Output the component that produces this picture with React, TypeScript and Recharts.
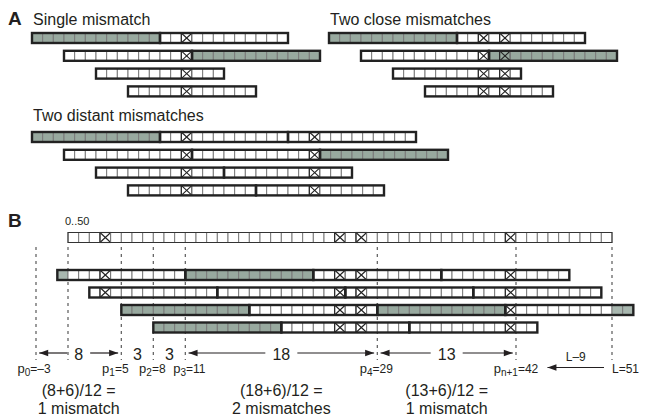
import { ScatterChart, Scatter, XAxis, YAxis, ReferenceLine } from "recharts";

const W = 645;
const H = 419;
const CELL = 32 / 3; // px per cell, x axis runs in cell units
const CELL_H = 10;
const PIECE = 12;
const FONT = '"Liberation Sans", Arial, Helvetica, sans-serif';
const INK = "#231f20";
const GREY = "#98a99f";
const GREY_OUT = "#a8b7af";

// ---- panel A data (columns of the mismatches, read layout)
const singleMismatch = [14];
const closeMismatches = [14, 16];
const distantMismatches = [14, 26];
const aReadStarts = [0, 3, 6, 9];
const aShortPieces = [2, 2, 1, 1];
const aShortGrey = [0, 1, -1, -1];
const aLongPieces = [3, 3, 2, 2];
const aLongGrey = [0, 2, -1, -1];

// ---- panel B data
const genomeFirst = 0;
const genomeLast = 50;
const genomeMismatches = [3, 25, 27, 41];
const bPieceStarts = [
  [-1, 11, 23, 35],
  [2, 14, 26, 38],
  [5, 17, 29, 41],
  [8, 20, 32],
];
const bGreyPieces = [[11], [], [5, 29], [8]];
const pNames = ["0", "1", "2", "3", "4", "n+1"];
const pValues = [-3, 5, 8, 11, 29, 42];
const gapValues = [8, 3, 3, 18, 13];
const gapArrows = [true, false, false, true, true];
const formulaGaps = [0, 3, 4];
const formulaResults = ["1 mismatch", "2 mismatches", "1 mismatch"];
const genomeL = 51;
const tailLen = 9;

// ---- layout
const ux = (px: number) => px / CELL;
const B_X0 = ux(68);
const A_GAP = 17.8;
const B_GAP = 17.5;

type CellPt = { x: number; y: number; fill: string; mark: boolean };
type SegPt = { x: number; y: number; len: number; thick: boolean };
type TextPt = {
  x: number;
  y: number;
  text: string;
  size: number;
  weight?: string;
  anchor?: string;
  sub?: string;
  rest?: string;
};
type HeadPt = { x: number; y: number; dir: number };

const cells: CellPt[] = [];
const segs: SegPt[] = [];
const texts: TextPt[] = [];
const heads: HeadPt[] = [];
const lines: { x1: number; x2: number; y1: number; y2: number; dashed: boolean }[] = [];

const aPanels = [
  { title: "Single mismatch", px: 32, y0: 38, ty: 25, mism: singleMismatch, pieces: aShortPieces, grey: aShortGrey },
  { title: "Two close mismatches", px: 329, y0: 38, ty: 25, mism: closeMismatches, pieces: aShortPieces, grey: aShortGrey },
  { title: "Two distant mismatches", px: 32, y0: 137, ty: 121, mism: distantMismatches, pieces: aLongPieces, grey: aLongGrey },
];

aPanels.forEach((p) => {
  const x0 = ux(p.px);
  texts.push({ x: ux(p.px + 1), y: p.ty, text: p.title, size: 16 });
  aReadStarts.forEach((start, r) => {
    const y = p.y0 + r * A_GAP;
    for (let k = 0; k < p.pieces[r]; k++) {
      const ps = start + k * PIECE;
      const grey = k === p.grey[r];
      for (let c = ps; c < ps + PIECE; c++) {
        cells.push({ x: x0 + c + 0.5, y, fill: grey ? GREY : "#fff", mark: p.mism.includes(c) });
      }
      segs.push({ x: x0 + ps + PIECE / 2, y, len: PIECE, thick: true });
    }
  });
});
texts.push({ x: ux(8), y: 25, text: "A", size: 19, weight: "bold" });
texts.push({ x: ux(8), y: 227, text: "B", size: 19, weight: "bold" });
texts.push({ x: ux(65), y: 225, text: `${genomeFirst}..${genomeLast}`, size: 11 });

// genome row
const GENOME_Y = 237.5;
for (let c = genomeFirst; c <= genomeLast; c++) {
  cells.push({ x: B_X0 + c + 0.5, y: GENOME_Y, fill: "#fff", mark: genomeMismatches.includes(c) });
}
segs.push({ x: B_X0 + (genomeFirst + genomeLast + 1) / 2, y: GENOME_Y, len: genomeLast - genomeFirst + 1, thick: false });

// reads
bPieceStarts.forEach((starts, r) => {
  const y = 275 + r * B_GAP;
  starts.forEach((ps) => {
    const grey = bGreyPieces[r].includes(ps);
    for (let c = ps; c < ps + PIECE; c++) {
      const out = c < genomeFirst || c > genomeLast;
      cells.push({
        x: B_X0 + c + 0.5,
        y,
        fill: out ? GREY_OUT : grey ? GREY : "#fff",
        mark: genomeMismatches.includes(c),
      });
    }
    segs.push({ x: B_X0 + ps + PIECE / 2, y, len: PIECE, thick: true });
  });
});

// dashed guides
[...pValues, genomeFirst, genomeL].forEach((v) => {
  lines.push({ x1: B_X0 + v, x2: B_X0 + v, y1: 247, y2: 360, dashed: true });
});

// gap arrows + numbers
const ARROW_Y = 353;
const INSET = 0.3;
gapValues.forEach((g, i) => {
  const a = B_X0 + pValues[i];
  const b = B_X0 + pValues[i + 1];
  const mid = (a + b) / 2;
  texts.push({ x: mid, y: ARROW_Y + 6.5, text: String(g), size: 16, anchor: "middle" });
  if (gapArrows[i]) {
    const half = ux(String(g).length * 4.5 + 7);
    lines.push({ x1: a + INSET, x2: mid - half, y1: ARROW_Y, y2: ARROW_Y, dashed: false });
    lines.push({ x1: mid + half, x2: b - INSET, y1: ARROW_Y, y2: ARROW_Y, dashed: false });
    heads.push({ x: a + INSET, y: ARROW_Y, dir: -1 });
    heads.push({ x: b - INSET, y: ARROW_Y, dir: 1 });
  }
});

// p labels
const LABEL_Y = 372.5;
const labelShift = [-2, -6, -1, 4, -1, 0];
pValues.forEach((v, i) => {
  texts.push({
    x: B_X0 + v + ux(labelShift[i]),
    y: LABEL_Y,
    text: "p",
    sub: pNames[i],
    rest: `=${v < 0 ? "–" + Math.abs(v) : v}`,
    size: 13,
    anchor: "middle",
  });
});
texts.push({ x: B_X0 + genomeL, y: LABEL_Y, text: `L=${genomeL}`, size: 12, anchor: "start" });

// L-9 arrow
const TAIL_Y = 367.5;
const tailTip = B_X0 + pValues[pValues.length - 1] + 2.95;
const tailEnd = B_X0 + genomeL - 0.75;
lines.push({ x1: tailTip, x2: tailEnd, y1: TAIL_Y, y2: TAIL_Y, dashed: false });
heads.push({ x: tailTip, y: TAIL_Y, dir: -1 });
texts.push({ x: (tailTip + tailEnd) / 2, y: 361, text: `L–${tailLen}`, size: 12, anchor: "middle" });

// formulas
formulaGaps.forEach((gi, k) => {
  const mid = B_X0 + (pValues[gi] + pValues[gi + 1]) / 2;
  texts.push({ x: mid, y: 396, text: `(${gapValues[gi]}+6)/12 =`, size: 16, anchor: "middle" });
  texts.push({ x: mid, y: 414, text: formulaResults[k], size: 16, anchor: "middle" });
});

function CellShape(props: any) {
  const { cx, cy, payload } = props;
  const w = CELL;
  const x = cx - w / 2;
  const y = cy - CELL_H / 2;
  return (
    <g>
      <rect x={x} y={y} width={w} height={CELL_H} fill={payload.fill} stroke="#7a7a7a" strokeWidth={1} />
      {payload.mark && (
        <g stroke="#222" strokeWidth={1.1}>
          <rect x={x} y={y} width={w} height={CELL_H} fill="none" />
          <line x1={x + 0.5} y1={y + 0.5} x2={x + w - 0.5} y2={y + CELL_H - 0.5} />
          <line x1={x + w - 0.5} y1={y + 0.5} x2={x + 0.5} y2={y + CELL_H - 0.5} />
        </g>
      )}
    </g>
  );
}

function SegShape(props: any) {
  const { cx, cy, payload } = props;
  const w = payload.len * CELL;
  return (
    <rect
      x={cx - w / 2}
      y={cy - CELL_H / 2}
      width={w}
      height={CELL_H}
      fill="none"
      stroke={payload.thick ? "#222" : "#333"}
      strokeWidth={payload.thick ? 2.4 : 1}
    />
  );
}

function TextShape(props: any) {
  const { cx, cy, payload } = props;
  return (
    <text
      x={cx}
      y={cy}
      fontSize={payload.size}
      fontWeight={payload.weight || "normal"}
      textAnchor={payload.anchor || "start"}
      fill={INK}
      fontFamily={FONT}
    >
      {payload.text}
      {payload.sub && (
        <tspan dy={3} fontSize={payload.size - 3}>
          {payload.sub}
        </tspan>
      )}
      {payload.rest && (
        <tspan dy={-3} fontSize={payload.size - 1}>
          {payload.rest}
        </tspan>
      )}
    </text>
  );
}

function HeadShape(props: any) {
  const { cx, cy, payload } = props;
  const d = payload.dir;
  return <path d={`M${cx},${cy} L${cx - d * 9},${cy - 3.2} L${cx - d * 9},${cy + 3.2} Z`} fill={INK} />;
}

export default function App() {
  return (
    <div style={{ position: "absolute", left: 0, top: 0, width: W, height: H, background: "#fff" }}>
      <ScatterChart width={W} height={H} margin={{ top: 0, right: 0, bottom: 0, left: 0 }}>
        <XAxis type="number" dataKey="x" domain={[0, ux(W)]} allowDataOverflow hide />
        <YAxis type="number" dataKey="y" domain={[0, H]} allowDataOverflow reversed hide />
        {lines.map((l, i) => (
          <ReferenceLine
            key={"l" + i}
            segment={[
              { x: l.x1, y: l.y1 },
              { x: l.x2, y: l.y2 },
            ]}
            stroke={l.dashed ? "#666" : INK}
            strokeWidth={l.dashed ? 1.3 : 1.2}
            strokeDasharray={l.dashed ? "3 4" : undefined}
            ifOverflow="visible"
          />
        ))}
        <Scatter data={cells} shape={(p: any) => <CellShape {...p} />} isAnimationActive={false} />
        <Scatter data={segs} shape={(p: any) => <SegShape {...p} />} isAnimationActive={false} />
        <Scatter data={heads} shape={(p: any) => <HeadShape {...p} />} isAnimationActive={false} />
        <Scatter data={texts} shape={(p: any) => <TextShape {...p} />} isAnimationActive={false} />
      </ScatterChart>
    </div>
  );
}
